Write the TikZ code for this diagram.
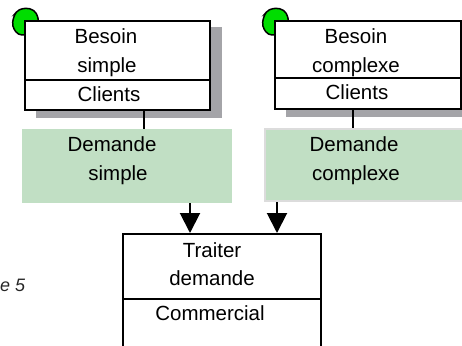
\documentclass[tikz,border=0pt]{standalone}
\usepackage{fontspec}
\setmainfont{Liberation Sans}
\usetikzlibrary{arrows.meta}
\definecolor{shadowgrey}{HTML}{A4A4A8}
\definecolor{flowgreen}{HTML}{C1DFC4}
\definecolor{markgreen}{HTML}{00DD00}
\definecolor{frameg}{HTML}{DCDCDC}
\tikzset{
  part/.style={draw, line width=2pt, fill=white, inner sep=0pt, anchor=north west},
  flow/.style={fill=flowgreen, inner sep=0pt, anchor=north west},
  lbl/.style={font=\fontsize{20.5}{28}\selectfont, inner sep=0pt, anchor=base},
  link/.style={line width=2pt},
  arr/.style={line width=2pt, -{Triangle[width=20pt,length=20pt]}},
  blob/.style={fill=markgreen, draw=black, line width=1.5pt, rounded corners=4pt},
  shade/.style={fill=shadowgrey, draw=none}
}
\begin{document}
\begin{tikzpicture}[x=1pt,y=-1pt]
\useasboundingbox (0,0) rectangle (462,345);
\begin{scope}
\clip (0,0) rectangle (462,345);

% shadows of the two need boxes
\fill[shade] (36,27) rectangle (222,118);
\fill[shade] (286,27) rectangle (473,117);

% start markers
\filldraw[blob] (14,15) -- (19,9) -- (30,8) -- (37,13) -- (39,24) -- (30,35) -- (18,35) -- (12,26) -- cycle;
\filldraw[blob] (264,15) -- (269,9) -- (280,8) -- (287,13) -- (289,24) -- (280,35) -- (268,35) -- (262,26) -- cycle;

% need: simple
\node[part, minimum width=185pt, minimum height=59pt] (b1) at (24,20) {};
\node[part, minimum width=185pt, minimum height=30pt] (c1) at (24,79) {};
\node[lbl] (b1t) at (106,44) {Besoin};
\node[lbl] (b1s) at (107,72) {simple};
\node[lbl] (c1t) at (109,101) {Clients};

% need: complex
\node[part, minimum width=186pt, minimum height=57pt] (b2) at (274,20) {};
\node[part, minimum width=186pt, minimum height=31pt] (c2) at (274,77) {};
\node[lbl] (b2t) at (356,44) {Besoin};
\node[lbl] (b2s) at (356,72) {complexe};
\node[lbl] (c2t) at (357,99) {Clients};

% requests
\node[flow, minimum width=210pt, minimum height=74pt] (ds) at (22,129) {};
\node[lbl] (dst) at (112,151) {Demande};
\node[lbl] (dss) at (118,180) {simple};

\node[flow, draw=frameg, line width=2pt, minimum width=210pt, minimum height=72pt] (dc) at (264,128) {};
\node[lbl] (dct) at (354,151) {Demande};
\node[lbl] (dcs) at (356,180) {complexe};

% process
\node[part, minimum width=198pt, minimum height=65pt] (td) at (122,233) {};
\node[part, minimum width=198pt, minimum height=60pt] (tc) at (122,298) {};
\node[lbl] (tdt) at (212,257) {Traiter};
\node[lbl] (tds) at (212,285) {demande};
\node[lbl] (tct) at (210,320) {Commercial};

% connectors
\coordinate (x1) at (144,0);
\coordinate (x2) at (353,0);
\coordinate (x3) at (190,0);
\coordinate (x4) at (277,0);
\draw[link] (x1 |- c1.south) -- (x1 |- ds.north);
\draw[link] (x2 |- c2.south) -- (x2 |- dc.north);
\draw[arr] (x3 |- ds.south) -- (x3 |- td.north);
\draw[arr] (x4 |- dc.south) -- (x4 |- td.north);

% caption fragment
\node[font=\itshape\fontsize{18}{20}\selectfont, text=black!85, inner sep=0pt, anchor=base west] (cap) at (0,291) {e 5};
\end{scope}
\end{tikzpicture}
\end{document}
